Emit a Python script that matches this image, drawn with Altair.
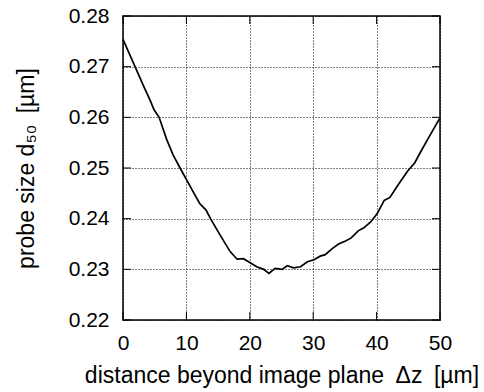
import altair as alt
import pandas as pd

dz = [0.0, 1.9, 3.2, 4.3, 4.9, 5.7, 6.9, 7.9, 9.0, 10.9, 12.1, 13.1, 13.8, 15.3, 16.9,
      18.0, 19.0, 21.1, 22.2, 23.0, 24.0, 25.1, 25.9, 26.9, 28.0, 29.1, 30.1, 31.1,
      31.9, 33.0, 34.0, 35.1, 36.0, 37.1, 38.0, 39.1, 40.1, 41.2, 42.1, 43.3, 44.9,
      46.0, 47.0, 48.3, 50.0]
d50 = [0.2754, 0.2700, 0.2663, 0.2633, 0.2615, 0.2600, 0.2556, 0.2526, 0.2500, 0.2457,
       0.2430, 0.2417, 0.2400, 0.2368, 0.2335, 0.2320, 0.2321, 0.2305, 0.2300, 0.2292,
       0.2302, 0.2300, 0.2307, 0.2303, 0.2305, 0.2315, 0.2319, 0.2326, 0.2329, 0.2341,
       0.2350, 0.2356, 0.2362, 0.2376, 0.2382, 0.2394, 0.2410, 0.2436, 0.2442, 0.2465,
       0.2494, 0.2510, 0.2533, 0.2562, 0.2599]

x_ticks = [0, 10, 20, 30, 40, 50]
y_ticks = [0.22, 0.23, 0.24, 0.25, 0.26, 0.27, 0.28]

df = pd.DataFrame({"dz": dz, "d50": d50})
FONT = "Liberation Sans"
W, H = 317, 304
TL = 8
SP = "\u2002"

xs = alt.Scale(domain=[0, 50], nice=False)
ys = alt.Scale(domain=[0.22, 0.28], nice=False, zero=False)

common = dict(grid=True, gridColor="black", gridDash=[1, 2], gridOpacity=1,
              gridWidth=1, ticks=False, domain=False, labelFlush=False,
              labelFontSize=21, titleFontSize=23, labelFont=FONT, titleFont=FONT,
              labelColor="black", titleColor="black", titleFontWeight="normal",
              labelOverlap=False)

line = alt.Chart(df).mark_line(color="black", strokeWidth=1.7).encode(
    x=alt.X("dz:Q", scale=xs,
            axis=alt.Axis(values=x_ticks,
                          title="distance beyond image plane" + SP + "Δz" + SP + "[µm]",
                          labelPadding=12, titlePadding=11, format="d", **common)),
    y=alt.Y("d50:Q", scale=ys,
            axis=alt.Axis(values=y_ticks, title="probe size d₅₀" + SP + "[µm]",
                          labelPadding=14, titlePadding=30, format=".2f", **common)),
)

ydf = pd.DataFrame({"y": y_ticks})
xdf = pd.DataFrame({"x": x_ticks})
yt_left = alt.Chart(ydf).mark_rule(color="black", strokeWidth=1).encode(
    y=alt.Y("y:Q", scale=ys), x=alt.value(0), x2=alt.value(TL))
yt_right = alt.Chart(ydf).mark_rule(color="black", strokeWidth=1).encode(
    y=alt.Y("y:Q", scale=ys), x=alt.value(W - TL), x2=alt.value(W))
xt_bot = alt.Chart(xdf).mark_rule(color="black", strokeWidth=1).encode(
    x=alt.X("x:Q", scale=xs), y=alt.value(H - TL), y2=alt.value(H))
xt_top = alt.Chart(xdf).mark_rule(color="black", strokeWidth=1).encode(
    x=alt.X("x:Q", scale=xs), y=alt.value(0), y2=alt.value(TL))

chart = alt.layer(yt_left, yt_right, xt_bot, xt_top, line).properties(
    width=W, height=H,
    autosize=alt.AutoSizeParams(type="none"),
    padding={"left": 123, "top": 16, "right": 44, "bottom": 72},
    background="white",
).configure_view(stroke="black", strokeWidth=1.5)

chart.save("out.html", embed_options={"renderer": "svg", "actions": False})
